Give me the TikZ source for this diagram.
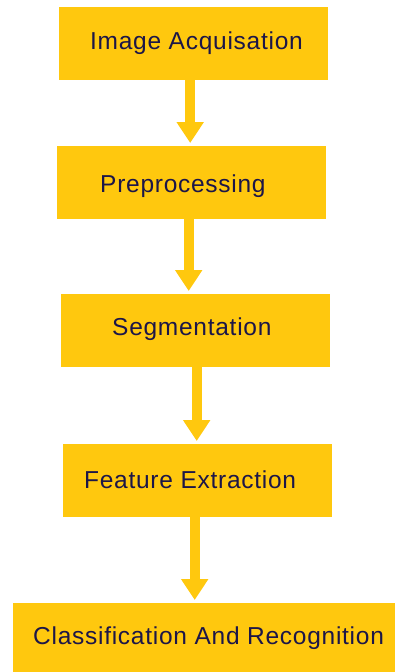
\documentclass[tikz,border=0pt]{standalone}
\usepackage{fontspec}
\setmainfont{Liberation Sans}[LetterSpace=3]
\usetikzlibrary{arrows.meta,calc}
\definecolor{boxyellow}{RGB}{255,200,14}
\definecolor{txtnavy}{RGB}{28,22,72}
\begin{document}
\begin{tikzpicture}[x=1pt,y=-1pt,
  box/.style={fill=boxyellow, draw=none, inner sep=0pt, anchor=north west},
  lbl/.style={anchor=base west, inner sep=0pt, text=txtnavy, font=\fontsize{24.5}{28}\selectfont},
  arr/.style={draw=boxyellow, line width=10pt, -{Triangle[width=26pt,length=21pt]}, shorten >=3pt}]
\useasboundingbox[fill=white] (0,0) rectangle (395,672);
% boxes
\node[box, minimum width=269pt, minimum height=73pt] (b1) at (59,7) {};
\node[box, minimum width=269pt, minimum height=73pt] (b2) at (57,146) {};
\node[box, minimum width=269pt, minimum height=73pt] (b3) at (61,294) {};
\node[box, minimum width=269pt, minimum height=73pt] (b4) at (63,444) {};
\node[box, minimum width=382pt, minimum height=69pt] (b5) at (13,603) {};
% labels
\node[lbl] (t1) at (90,49) {Image Acquisation};
\node[lbl] (t2) at (100,192) {Preprocessing};
\node[lbl] (t3) at (112,335) {Segmentation};
\node[lbl] (t4) at (84,488) {Feature Extraction};
\node[lbl] (t5) at (33,644) {Classification And Recognition};
% arrows
\coordinate (a1) at ($(b1.south)+(-3.5,0)$);
\coordinate (a2) at ($(b2.south)+(-3,0)$);
\coordinate (a3) at ($(b3.south)+(1,0)$);
\coordinate (a4) at ($(b4.south)+(-3,0)$);
\draw[arr] (a1) -- (a1 |- b2.north);
\draw[arr] (a2) -- (a2 |- b3.north);
\draw[arr] (a3) -- (a3 |- b4.north);
\draw[arr] (a4) -- (a4 |- b5.north);
\end{tikzpicture}
\end{document}
